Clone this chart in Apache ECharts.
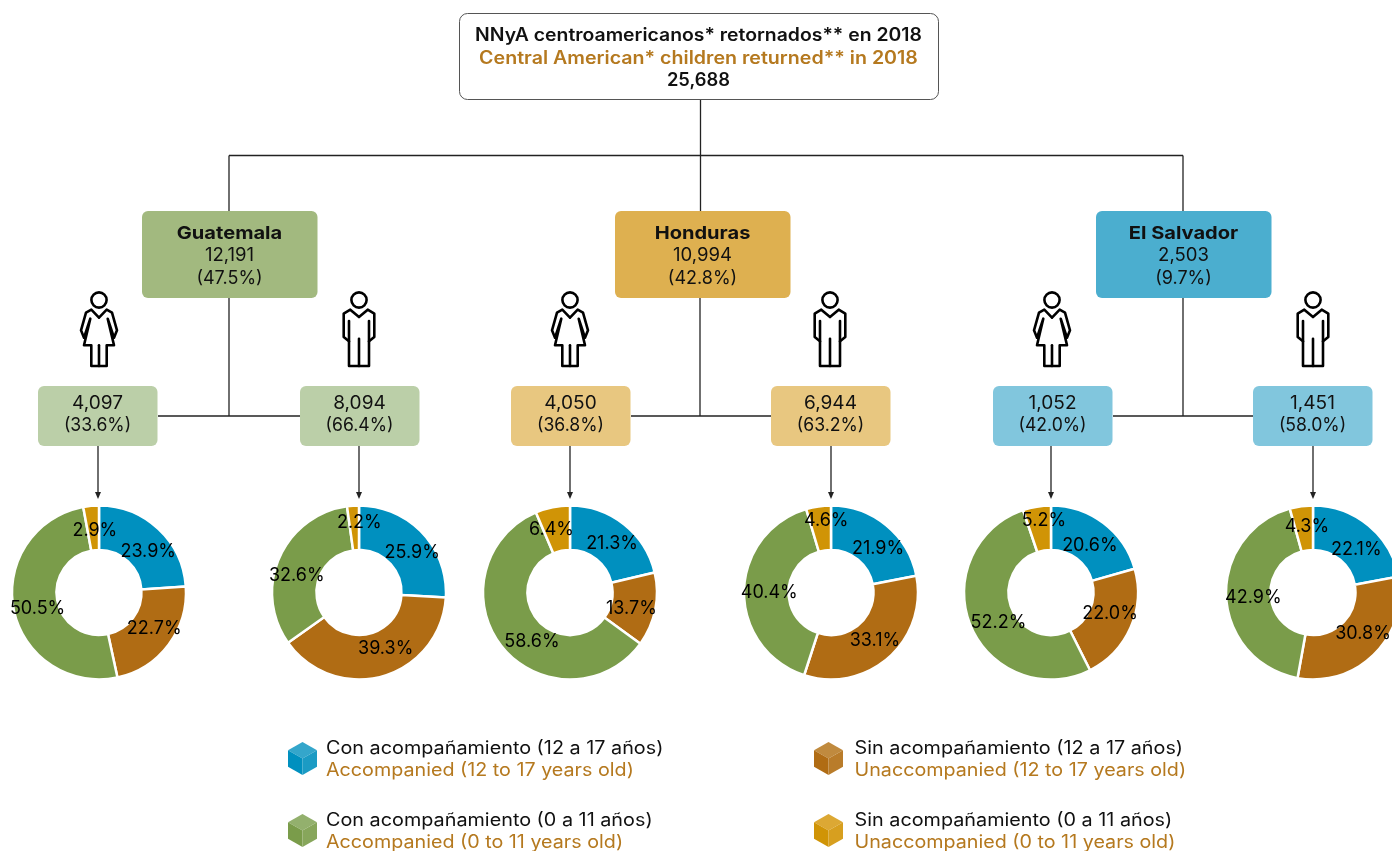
<!DOCTYPE html>
<html><head><meta charset="utf-8">
<style>html,body{margin:0;padding:0;background:#fff}#c{width:1392px;height:851px}</style>
<script src="https://cdn.jsdelivr.net/npm/echarts@6/dist/echarts.min.js"></script>
</head><body><div id="c"></div>
<script>
// ---------- data ----------
const titleLines = ['NNyA centroamericanos* retornados** en 2018', 'Central American* children returned** in 2018', '25,688'];
const countries = ['Guatemala', 'Honduras', 'El Salvador'];
const countryTotals = ['12,191', '10,994', '2,503'];
const countryShares = ['(47.5%)', '(42.8%)', '(9.7%)'];
const groupTotals = ['4,097', '8,094', '4,050', '6,944', '1,052', '1,451'];
const groupShares = ['(33.6%)', '(66.4%)', '(36.8%)', '(63.2%)', '(42.0%)', '(58.0%)'];
const groupKinds = ['f', 'm', 'f', 'm', 'f', 'm'];
const segmentNames = ['Con acompañamiento (12 a 17 años)', 'Sin acompañamiento (12 a 17 años)', 'Con acompañamiento (0 a 11 años)', 'Sin acompañamiento (0 a 11 años)'];
const segmentNamesEn = ['Accompanied (12 to 17 years old)', 'Unaccompanied (12 to 17 years old)', 'Accompanied (0 to 11 years old)', 'Unaccompanied (0 to 11 years old)'];
const guatemalaGirls = [23.9, 22.7, 50.5, 2.9];
const guatemalaBoys = [25.9, 39.3, 32.6, 2.2];
const hondurasGirls = [21.3, 13.7, 58.6, 6.4];
const hondurasBoys = [21.9, 33.1, 40.4, 4.6];
const salvadorGirls = [20.6, 22.0, 52.2, 5.2];
const salvadorBoys = [22.1, 30.8, 42.9, 4.3];
const donutValues = [guatemalaGirls, guatemalaBoys, hondurasGirls, hondurasBoys, salvadorGirls, salvadorBoys];

// ---------- layout & style ----------
const FONT = 'Inter';
const BLACK = '#111', ORANGE = '#B5791F', LINE = '#222';
const segColors = ['#0090BF', '#B06C14', '#7A9C4A', '#D09406'];
const cubeFaces = {
  0: ['#34A6CB', '#0090BF', '#1B9BC4'],
  1: ['#C08A3E', '#B06C14', '#B97C2A'],
  2: ['#93B06D', '#7A9C4A', '#87A65B'],
  3: ['#DCA834', '#D09406', '#D79F1F']
};
const donutX = [99, 359, 570, 831, 1051, 1313];
const donutY = 592;
// nudges of each percentage label from the ring's mid radius, as in the reference
const labelNudges = [
  [[3,9],[1,-5],[5,3],[2,6]],
  [[4,7],[8,-9],[0,10],[5,-2]],
  [[0,4],[-5,3],[15,7],[-5,3]],
  [[4,8],[-1,-3],[6,1],[5,-5]],
  [[-2,7],[-3,-6],[10,4],[4,-5]],
  [[0,9],[2,-7],[8,2],[3,1]]
];
const boxL = [38, 300, 511, 771, 993, 1253], boxW = 120;
const countryL = [142, 615, 1096], countryW = 176;
const stemX = [229, 700, 1183];
const countryFill = ['#A2B97F', '#DEB050', '#4BAECF'];
const groupFill = ['#BBCFA8', '#E8C780', '#81C6DD'];
const iconX = [99, 359, 570, 830, 1052, 1313];
const arrowX = [98, 359, 570, 831, 1051, 1313];

const g = [];
const line = (x1, y1, x2, y2) => g.push({type:'line', shape:{x1,y1,x2,y2}, style:{stroke:LINE, lineWidth:1.3}, z:1});
const text = (x, y, t, size, weight, fill, align, sx) => g.push({type:'text', x, y, scaleX:sx||1, z:5, style:{text:t, font:`${weight} ${size}px ${FONT}`, fill, textAlign:align||'center', textVerticalAlign:'middle'}});
const rect = (x, y, width, height, r, fill, stroke) => g.push({type:'rect', shape:{x, y, width, height, r}, style:{fill, stroke:stroke||null, lineWidth:stroke?1:0}, z:3});

// connectors
line(700.5, 99, 700.5, 211);
line(229, 155.5, 1183, 155.5);
line(229, 155.5, 229, 211);
line(1183, 155.5, 1183, 211);
stemX.forEach((x, i) => {
  line(x, 298, x, 416);
  line(boxL[i*2] + boxW, 416, boxL[i*2+1], 416);
});
arrowX.forEach(x => {
  line(x, 446, x, 494);
  g.push({type:'polygon', shape:{points:[[x-3, 492], [x+3, 492], [x, 499]]}, style:{fill:LINE}, z:1});
});

// title box
rect(459.5, 13.5, 479, 86, 8, '#fff', '#555');
text(698.5, 35.5, titleLines[0], 18, 600, BLACK, 'center', 1.077);
text(698.5, 58.5, titleLines[1], 18, 600, ORANGE, 'center', 1.09);
text(698.5, 81, titleLines[2], 18, 600, BLACK, 'center', 1.02);

// country boxes
countries.forEach((c, i) => {
  rect(countryL[i], 211, countryW - 0.5, 87, 6, countryFill[i]);
  const cx = countryL[i] + countryW/2 - 0.5;
  text(cx, 233.5, c, 18, 700, BLACK, 'center', 1.115);
  text(cx, 256, countryTotals[i], 18, 400, BLACK, 'center', 1.03);
  text(cx, 278.5, countryShares[i], 18, 400, BLACK, 'center', 1.0);
});

// group boxes + icons
const female = [[0,25.7],[-7.7,17.7],[-13,20.7],[-18,38.3],[-15,45.7],[-8.7,26.7],[-15,53.3],[-7.7,53.3],[-7.7,74],[7.7,74],[7.7,53.3],[15,53.3],[8.7,26.7],[15,45.7],[18,38.3],[13,20.7],[7.7,17.7],[0,25.7]];
const male = [[0,25],[-8.7,17.7],[-15.3,21.7],[-15.3,45],[-10,49.3],[-10,74],[10,74],[10,49.3],[15.3,45],[15.3,21.7],[8.7,17.7],[0,25]];
const strokeIcon = {stroke:'#000', lineWidth:2.6, fill:null, lineJoin:'round', lineCap:'round'};
groupTotals.forEach((v, i) => {
  const fam = Math.floor(i/2);
  rect(boxL[i], 386, boxW - 0.5, 60, 6, groupFill[fam]);
  text(boxL[i] + boxW/2 - 0.5, 404, v, 18, 400, BLACK, 'center', 1.06);
  text(boxL[i] + boxW/2 - 0.5, 426, groupShares[i], 18, 400, BLACK, 'center', 0.98);
  const x = iconX[i], y = 292;
  g.push({type:'circle', x, y, shape:{cx:0, cy:8, r:7.6}, style:strokeIcon, z:4});
  g.push({type:'polyline', x, y, shape:{points: groupKinds[i]==='f' ? female : male}, style:strokeIcon, z:4});
  const extra = groupKinds[i]==='f' ? [[[0,53.3],[0,74]]] : [[[0,46.7],[0,74]], [[-10,29],[-10,49.3]], [[10,29],[10,49.3]]];
  extra.forEach(p => g.push({type:'polyline', x, y, shape:{points:p}, style:strokeIcon, z:4}));
});

// legend
const legX = [302.5, 828.5], legY = [758.5, 830.5], legTxt = [326, 854.5];
segmentNames.forEach((name, i) => {
  const col = i % 2, row = i >> 1, cx = legX[col], cy = legY[row], f = cubeFaces[i];
  const w = 14.5, h = 16.5, d = 8.3;
  g.push({type:'polygon', shape:{points:[[cx,cy-h],[cx+w,cy-d],[cx,cy],[cx-w,cy-d]]}, style:{fill:f[0]}, z:3});
  g.push({type:'polygon', shape:{points:[[cx-w,cy-d],[cx,cy],[cx,cy+h],[cx-w,cy+d]]}, style:{fill:f[1]}, z:3});
  g.push({type:'polygon', shape:{points:[[cx+w,cy-d],[cx,cy],[cx,cy+h],[cx+w,cy+d]]}, style:{fill:f[2]}, z:3});
  text(legTxt[col], cy - 10, name, 18, 400, BLACK, 'left', 1.1);
  text(legTxt[col], cy + 12, segmentNamesEn[i], 18, 400, ORANGE, 'left', 1.095);
});

const series = donutValues.map((vals, i) => ({
  type:'pie', center:[donutX[i], donutY + 0.5], radius:[42.5, 87], startAngle:90, clockwise:true,
  animation:false, avoidLabelOverlap:false, minShowLabelAngle:0, silent:true, z:2,
  itemStyle:{borderColor:'#fff', borderWidth:2.5},
  label:{show:true, position:'inside', formatter:p => p.value.toFixed(1) + '%', color:'#000', fontFamily:FONT, fontSize:18, fontWeight:400},
  labelLine:{show:false},
  data: vals.map((v, k) => ({value:v, name:segmentNames[k], itemStyle:{color:segColors[k]}, label:{offset:labelNudges[i][k]}}))
}));

const chart = echarts.init(document.getElementById('c'), null, {renderer:'canvas'});
chart.setOption({animation:false, backgroundColor:'#fff', series, graphic:{elements:g}});
</script></body></html>
